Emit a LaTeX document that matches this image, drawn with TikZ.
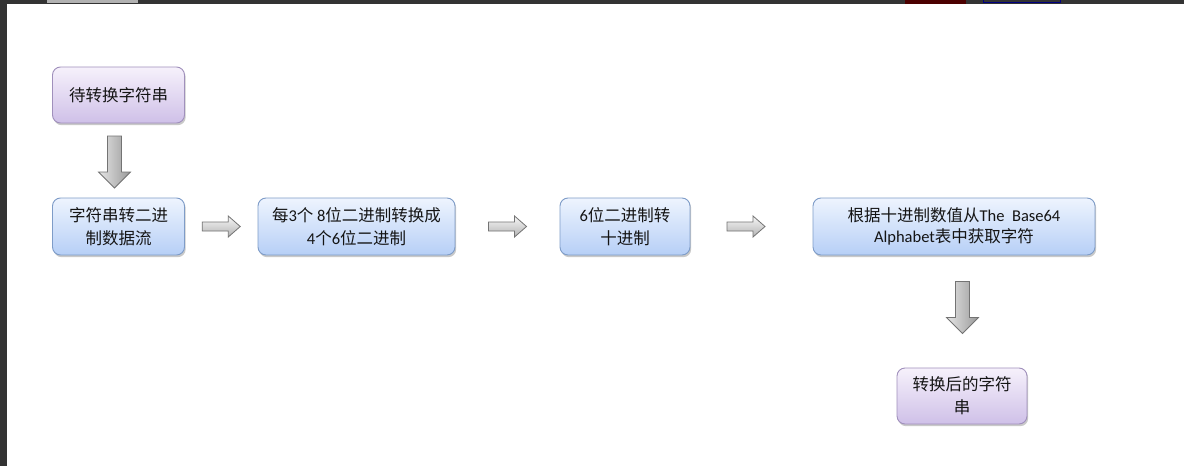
\documentclass[tikz,border=0pt]{standalone}
\usepackage{fontspec}
\setmainfont{Carlito}
\newfontfamily\cjk{Noto Sans CJK SC}
\usetikzlibrary{shadows,calc}
\definecolor{bluetop}{HTML}{EEF4FE}
\definecolor{bluebot}{HTML}{B6CFF6}
\definecolor{blueline}{HTML}{7E9CC8}
\definecolor{purtop}{HTML}{F6F1FB}
\definecolor{purbot}{HTML}{CFC0E8}
\definecolor{purline}{HTML}{A090BC}
\definecolor{txt}{HTML}{141414}
\tikzset{
  boxbase/.style={rounded corners=8pt, draw, line width=0.9pt, align=center,
    text=txt, font=\cjk\fontsize{16.5}{23}\selectfont, inner sep=0pt,
    drop shadow={shadow xshift=1.2pt, shadow yshift=-2.2pt, opacity=0.35, fill=black!60}},
  bluebox/.style={boxbase, draw=blueline, top color=bluetop, bottom color=bluebot},
  purbox/.style={boxbase, draw=purline, top color=purtop, bottom color=purbot},
  arrowfill/.style={draw=black!55, line width=0.8pt, top color=black!3, bottom color=black!30},
  darrowfill/.style={draw=black!55, line width=0.8pt, left color=black!10, right color=black!40},
  rarrow/.pic={\path[arrowfill] (-19,4.5) -- (7,4.5) -- (7,10.5) -- (19,0) -- (7,-10.5) -- (7,-4.5) -- (-19,-4.5) -- cycle;},
  darrow/.pic={\path[darrowfill] (-7,-26) -- (7,-26) -- (7,10) -- (16,10) -- (0,26) -- (-16,10) -- (-7,10) -- cycle;}
}
\newcommand{\lat}[1]{{\rmfamily #1}}
\begin{document}
\begin{tikzpicture}[x=1pt,y=-1pt]
\useasboundingbox (0,0) rectangle (1184,466);
\fill[white] (0,0) rectangle (1184,466);
% window frame
\fill[black!80] (0,0) rectangle (1184,4);
\fill[black!80] (0,0) rectangle (7,466);
\fill[black!30] (47,0) rectangle (138,3);
\fill[black!70!red] (905,0) rectangle (966,4);
\draw[blue!50!black, line width=0.8pt] (983,0) -- (983,2) -- (1060,2) -- (1060,0);

\node[purbox, minimum width=132pt, minimum height=56pt] (b1) at (118.5,95) {待转换字符串};
\node[bluebox, minimum width=132pt, minimum height=57pt] (b2) at (118.5,226.5) {字符串转二进\\制数据流};
\node[bluebox, minimum width=197pt, minimum height=57pt] (b3) at (356.5,226.5) {每\lat{3}个 \lat{8}位二进制转换成\\\lat{4}个\lat{6}位二进制};
\node[bluebox, minimum width=130pt, minimum height=57pt] (b4) at (625,226.5) {\lat{6}位二进制转\\十进制};
\node[bluebox, minimum width=282pt, minimum height=57pt, font=\cjk\fontsize{16.5}{21}\selectfont] (b5) at (954,226.5) {根据十进制数值从\lat{The\ \ Base64}\\\lat{Alphabet}表中获取字符};
\node[purbox, minimum width=130pt, minimum height=56pt] (b6) at (962,396) {转换后的字符\\串};

\pic at ($(b1.south)!0.5!(b2.north)+(-4,1.5)$) {darrow};
\pic at ($(b2.east)!0.5!(b3.west)$) {rarrow};
\pic at ($(b3.east)!0.5!(b4.west)$) {rarrow};
\pic at ($(b4.east)!0.5!(b5.west)+(-5.5,0)$) {rarrow};
\pic at ($(b5.south)!0.5!(b6.north)+(4.5,-4)$) {darrow};
\end{tikzpicture}
\end{document}
